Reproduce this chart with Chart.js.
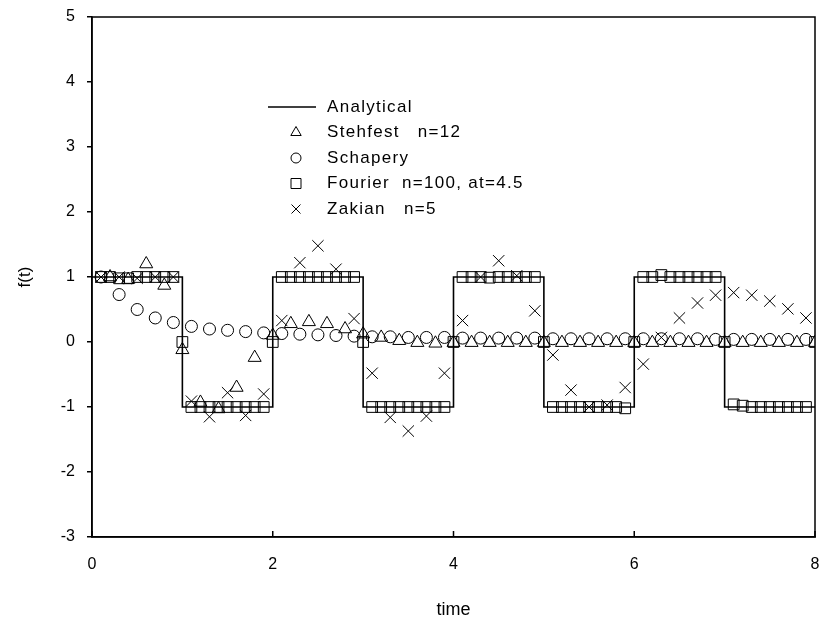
<!DOCTYPE html>
<html lang="en">
<head>
<meta charset="UTF-8">
<title>f(t) versus time</title>
<style>
    body {
        margin: 0;
        background-color: #ffffff;
    }
</style>
</head>
<body>
<canvas id="chart" width="819" height="623"></canvas>

<script src="https://cdn.jsdelivr.net/npm/chart.js"></script>
<script>
    // exact square wave: value holds from each t until the next one
    const analyticalT = [0, 1, 2, 3, 4, 5, 6, 7, 8];
    const analyticalF = [1, -1, 1, -1, 1, -1, 1, -1, -1];

    const stehfestT = [0.2, 0.4, 0.6, 0.8, 1.0, 1.2, 1.4, 1.6, 1.8, 2.0,
                       2.2, 2.4, 2.6, 2.8, 3.0, 3.2, 3.4, 3.6, 3.8, 4.0,
                       4.2, 4.4, 4.6, 4.8, 5.0, 5.2, 5.4, 5.6, 5.8, 6.0,
                       6.2, 6.4, 6.6, 6.8, 7.0, 7.2, 7.4, 7.6, 7.8, 8.0];
    const stehfestF = [1.0, 0.96, 1.2, 0.87, -0.12, -0.93, -1.03, -0.7, -0.24, 0.1,
                       0.28, 0.31, 0.28, 0.2, 0.12, 0.07, 0.02, -0.01, -0.02, -0.01,
                       -0.01, -0.01, -0.01, -0.01, -0.01, -0.01, -0.01, -0.01, -0.01, -0.01,
                       -0.01, -0.01, -0.01, -0.01, -0.01, -0.01, -0.01, -0.01, -0.01, -0.01];

    const schaperyT = [0.1, 0.3, 0.5, 0.7, 0.9, 1.1, 1.3, 1.5, 1.7, 1.9,
                       2.1, 2.3, 2.5, 2.7, 2.9, 3.1, 3.3, 3.5, 3.7, 3.9,
                       4.1, 4.3, 4.5, 4.7, 4.9, 5.1, 5.3, 5.5, 5.7, 5.9,
                       6.1, 6.3, 6.5, 6.7, 6.9, 7.1, 7.3, 7.5, 7.7, 7.9];
    const schaperyF = [1.0, 0.73, 0.5, 0.37, 0.3, 0.24, 0.2, 0.18, 0.16, 0.14,
                       0.13, 0.12, 0.11, 0.1, 0.09, 0.08, 0.08, 0.07, 0.07, 0.07,
                       0.06, 0.06, 0.06, 0.06, 0.06, 0.05, 0.05, 0.05, 0.05, 0.05,
                       0.05, 0.05, 0.05, 0.05, 0.04, 0.04, 0.04, 0.04, 0.04, 0.04];

    const fourierT = [0.1, 0.2, 0.3, 0.4, 0.5, 0.6, 0.7, 0.8, 0.9, 1.0,
                      1.1, 1.2, 1.3, 1.4, 1.5, 1.6, 1.7, 1.8, 1.9, 2.0,
                      2.1, 2.2, 2.3, 2.4, 2.5, 2.6, 2.7, 2.8, 2.9, 3.0,
                      3.1, 3.2, 3.3, 3.4, 3.5, 3.6, 3.7, 3.8, 3.9, 4.0,
                      4.1, 4.2, 4.3, 4.4, 4.5, 4.6, 4.7, 4.8, 4.9, 5.0,
                      5.1, 5.2, 5.3, 5.4, 5.5, 5.6, 5.7, 5.8, 5.9, 6.0,
                      6.1, 6.2, 6.3, 6.4, 6.5, 6.6, 6.7, 6.8, 6.9, 7.0,
                      7.1, 7.2, 7.3, 7.4, 7.5, 7.6, 7.7, 7.8, 7.9, 8.0];
    const fourierF = [1.0, 1.0, 0.98, 0.98, 1.0, 1.0, 1.0, 1.0, 1.0, 0.0,
                      -1.0, -1.0, -1.0, -1.0, -1.0, -1.0, -1.0, -1.0, -1.0, 0.0,
                      1.0, 1.0, 1.0, 1.0, 1.0, 1.0, 1.0, 1.0, 1.0, 0.0,
                      -1.0, -1.0, -1.0, -1.0, -1.0, -1.0, -1.0, -1.0, -1.0, 0.0,
                      1.0, 1.0, 1.0, 0.99, 1.0, 1.0, 1.0, 1.0, 1.0, 0.0,
                      -1.0, -1.0, -1.0, -1.0, -1.0, -1.0, -1.0, -1.0, -1.02, 0.0,
                      1.0, 1.0, 1.03, 1.0, 1.0, 1.0, 1.0, 1.0, 1.0, 0.0,
                      -0.96, -0.98, -1.0, -1.0, -1.0, -1.0, -1.0, -1.0, -1.0, 0.0];

    const zakianT = [0.1, 0.3, 0.5, 0.7, 0.9, 1.1, 1.3, 1.5, 1.7, 1.9,
                     2.1, 2.3, 2.5, 2.7, 2.9, 3.1, 3.3, 3.5, 3.7, 3.9,
                     4.1, 4.3, 4.5, 4.7, 4.9, 5.1, 5.3, 5.5, 5.7, 5.9,
                     6.1, 6.3, 6.5, 6.7, 6.9, 7.1, 7.3, 7.5, 7.7, 7.9];
    const zakianF = [1.0, 1.0, 0.98, 1.0, 1.0, -0.91, -1.15, -0.78, -1.13, -0.8,
                     0.33, 1.22, 1.48, 1.12, 0.36, -0.48, -1.16, -1.37, -1.14, -0.48,
                     0.33, 1.0, 1.25, 1.02, 0.48, -0.2, -0.74, -1.0, -0.97, -0.7,
                     -0.34, 0.07, 0.37, 0.6, 0.72, 0.76, 0.72, 0.63, 0.51, 0.37];

    const xTicks = [0, 2, 4, 6, 8];
    const yTicks = [-3, -2, -1, 0, 1, 2, 3, 4, 5];

    const legendItems = [
        { label: 'Analytical', mark: 'line' },
        { label: 'Stehfest   n=12', mark: 'triangle' },
        { label: 'Schapery', mark: 'circle' },
        { label: 'Fourier  n=100, at=4.5', mark: 'rect' },
        { label: 'Zakian   n=5', mark: 'crossRot' }
    ];

    const toPoints = (ts, fs) => ts.map((t, i) => ({ x: t, y: fs[i] }));
    const font = 'Arial, "Liberation Sans", sans-serif';

    function markerSet(label, ts, fs, style, radius) {
        return {
            label: label,
            data: toPoints(ts, fs),
            showLine: false,
            pointStyle: style,
            pointRadius: radius,
            pointHoverRadius: radius,
            pointBorderWidth: 1,
            pointBorderColor: '#000000',
            pointBackgroundColor: 'rgba(0,0,0,0)'
        };
    }

    // box round the plot plus the short x ticks that point inward
    const framePlugin = {
        id: 'frame',
        afterDraw(chart) {
            const { ctx, chartArea: a } = chart;
            const x = chart.scales.x;
            ctx.save();
            ctx.strokeStyle = '#000000';
            ctx.lineWidth = 1.5;
            ctx.strokeRect(a.left, a.top, a.right - a.left, a.bottom - a.top);
            ctx.beginPath();
            xTicks.forEach(v => {
                const px = x.getPixelForValue(v);
                ctx.moveTo(px, a.bottom);
                ctx.lineTo(px, a.bottom - 6);
            });
            ctx.stroke();
            ctx.restore();
        }
    };

    function drawMark(ctx, mark, cx, cy) {
        ctx.beginPath();
        if (mark === 'line') {
            ctx.lineWidth = 1.5;
            ctx.moveTo(cx - 28, cy);
            ctx.lineTo(cx + 20, cy);
        } else if (mark === 'triangle') {
            const r = 6;
            ctx.moveTo(cx, cy - r);
            ctx.lineTo(cx + r * 0.866, cy + r / 2);
            ctx.lineTo(cx - r * 0.866, cy + r / 2);
            ctx.closePath();
        } else if (mark === 'circle') {
            ctx.arc(cx, cy, 5, 0, Math.PI * 2);
        } else if (mark === 'rect') {
            ctx.rect(cx - 5, cy - 5, 10, 10);
        } else {
            ctx.moveTo(cx - 4.5, cy - 4.5);
            ctx.lineTo(cx + 4.5, cy + 4.5);
            ctx.moveTo(cx + 4.5, cy - 4.5);
            ctx.lineTo(cx - 4.5, cy + 4.5);
        }
        ctx.stroke();
    }

    const legendPlugin = {
        id: 'innerLegend',
        afterDraw(chart) {
            const ctx = chart.ctx;
            ctx.save();
            ctx.strokeStyle = '#000000';
            ctx.fillStyle = '#000000';
            ctx.font = '17px ' + font;
            ctx.textBaseline = 'middle';
            ctx.letterSpacing = '1.3px';
            legendItems.forEach((item, i) => {
                const y = 107 + i * 25.5;
                ctx.lineWidth = 1;
                drawMark(ctx, item.mark, 296, y);
                ctx.fillText(item.label, 327, y);
            });
            ctx.restore();
        }
    };

    const config = {
        type: 'scatter',
        data: {
            datasets: [
                {
                    label: 'Analytical',
                    data: toPoints(analyticalT, analyticalF),
                    showLine: true,
                    stepped: 'before',
                    borderColor: '#000000',
                    borderWidth: 1.6,
                    pointRadius: 0,
                    pointHoverRadius: 0
                },
                markerSet('Stehfest n=12', stehfestT, stehfestF, 'triangle', 7.5),
                markerSet('Schapery', schaperyT, schaperyF, 'circle', 6),
                markerSet('Fourier n=100, at=4.5', fourierT, fourierF, 'rect', 7.6),
                markerSet('Zakian n=5', zakianT, zakianF, 'crossRot', 8)
            ]
        },
        options: {
            responsive: false,
            animation: false,
            layout: { autoPadding: false, padding: { top: 17, right: 4, left: 0, bottom: 0 } },
            plugins: {
                legend: { display: false },
                tooltip: { enabled: false }
            },
            scales: {
                x: {
                    type: 'linear',
                    min: 0,
                    max: 8,
                    afterBuildTicks: s => { s.ticks = xTicks.map(v => ({ value: v })); },
                    afterFit: s => {
                        s.height = 86;
                        s.paddingLeft = 0;
                        s.paddingRight = 0;
                    },
                    ticks: {
                        color: '#000000',
                        font: { family: font, size: 16 },
                        padding: 10,
                        maxRotation: 0
                    },
                    grid: { display: false },
                    border: { display: true, color: '#000000', width: 1.5 },
                    title: {
                        display: true,
                        text: 'time',
                        color: '#000000',
                        font: { family: font, size: 18 },
                        padding: { top: 0, bottom: 2 }
                    }
                },
                y: {
                    type: 'linear',
                    min: -3,
                    max: 5,
                    afterBuildTicks: s => { s.ticks = yTicks.map(v => ({ value: v })); },
                    afterFit: s => {
                        s.width = 92;
                        s.paddingTop = 0;
                        s.paddingBottom = 0;
                    },
                    ticks: {
                        color: '#000000',
                        font: { family: font, size: 16 },
                        padding: 12
                    },
                    grid: {
                        display: true,
                        drawOnChartArea: false,
                        drawTicks: true,
                        tickLength: 5,
                        color: '#000000',
                        lineWidth: 1.5
                    },
                    border: { display: true, color: '#000000', width: 1.5 },
                    title: {
                        display: true,
                        text: 'f(t)',
                        color: '#000000',
                        font: { family: font, size: 17 },
                        padding: { top: 15, bottom: 0 }
                    }
                }
            }
        },
        plugins: [framePlugin, legendPlugin]
    };

    const chart = new Chart(document.getElementById('chart').getContext('2d'), config);
</script>
</body>
</html>
